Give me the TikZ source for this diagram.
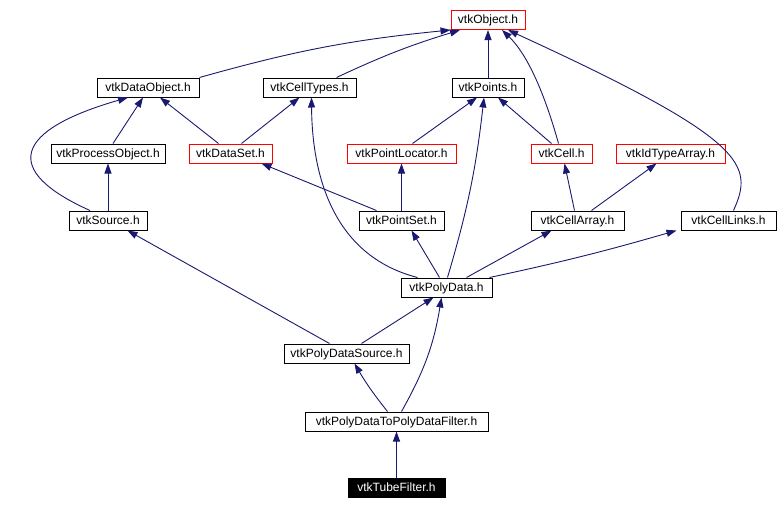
\documentclass[tikz,border=0pt]{standalone}
\usepackage{fontspec}
\setmainfont{Liberation Sans}
\usetikzlibrary{arrows.meta}
\definecolor{edgeblue}{HTML}{191970}
\tikzset{
  hdr/.style={draw=black,line width=1pt,minimum height=19pt,inner sep=0pt,text height=9.4pt,text depth=1.6pt,font=\fontsize{12}{14}\selectfont},
  hdrred/.style={hdr,draw=red},
  hdrcur/.style={hdr,fill=black,text=white},
  dep/.style={draw=edgeblue,line width=0.9pt,-{Triangle[length=10pt,width=7pt]}}
}

\begin{document}
\begin{tikzpicture}[x=1pt,y=-1pt]
              \useasboundingbox (0,0) rectangle (778,509);
              % header boxes
              \node[hdrred,minimum width=74pt](obj)at(488,20){vtkObject.h};
              \node[hdr,minimum width=102pt](dobj)at(148,87.5){vtkDataObject.h};
              \node[hdr,minimum width=93pt](ctypes)at(309.5,87.5){vtkCellTypes.h};
              \node[hdr,minimum width=72pt](points)at(488,87.5){vtkPoints.h};
              \node[hdr,minimum width=114pt](pobj)at(108,153.5){vtkProcessObject.h};
              \node[hdrred,minimum width=83pt](dset)at(230.5,153.5){vtkDataSet.h};
              \node[hdrred,minimum width=109pt](ploc)at(401.5,153.5){vtkPointLocator.h};
              \node[hdrred,minimum width=61pt](cell)at(561.5,153.5){vtkCell.h};
              \node[hdrred,minimum width=109pt](idarr)at(670.5,153.5){vtkIdTypeArray.h};
              \node[hdr,minimum width=78pt](src)at(108,220.5){vtkSource.h};
              \node[hdr,minimum width=85pt](pset)at(401.5,220.5){vtkPointSet.h};
              \node[hdr,minimum width=93pt](carr)at(577.5,220.5){vtkCellArray.h};
              \node[hdr,minimum width=95pt](clinks)at(728.5,220.5){vtkCellLinks.h};
              \node[hdr,minimum width=91pt](pdata)at(446.5,287.5){vtkPolyData.h};
              \node[hdr,minimum width=125pt](pdsrc)at(346.5,353.5){vtkPolyDataSource.h};
              \node[hdr,minimum width=183pt](filt)at(396.5,421.5){vtkPolyDataToPolyDataFilter.h};
              \node[hdrcur,minimum width=97pt](tube)at(396.5,487.5){vtkTubeFilter.h};
              % include edges
              \draw[dep] (dobj.north east) to[bend left=5] (obj.south west);
              \draw[dep] ([xshift=27pt]ctypes.north) to[bend left=4] ([xshift=-28pt]obj.south);
              \draw[dep] (points.north) -- (obj.south);
              \draw[dep] ([xshift=-3pt]cell.north) .. controls (545,95) and (528,55) .. ([xshift=14pt]obj.south);
              \draw[dep] ([xshift=5pt]clinks.north) .. controls (754,165) and (748,140) .. ([xshift=20pt]obj.south);
              \draw[dep] ([xshift=5pt]pobj.north) -- ([xshift=-5pt]dobj.south);
              \draw[dep] ([xshift=-18pt]src.north) .. controls (0,170) and (15,130) .. ([xshift=-20pt]dobj.south);
              \draw[dep] ([xshift=-12pt]dset.north) -- ([xshift=12pt]dobj.south);
              \draw[dep] ([xshift=11pt]dset.north) -- ([xshift=-10pt]ctypes.south);
              \draw[dep] ([xshift=11pt]ploc.north) -- ([xshift=-11pt]points.south);
              \draw[dep] ([xshift=-10pt]cell.north) -- ([xshift=10pt]points.south);
              \draw[dep] (src.north) -- (pobj.south);
              \draw[dep] ([xshift=-25pt]pset.north) -- ([xshift=31pt]dset.south);
              \draw[dep] (pset.north) -- (ploc.south);
              \draw[dep] ([xshift=-3pt]carr.north) -- ([xshift=3pt]cell.south);
              \draw[dep] ([xshift=14pt]carr.north) -- ([xshift=-14pt]idarr.south);
              \draw[dep] ([xshift=-29pt]pdata.north) .. controls (330,255) and (312,170) .. ([xshift=2pt]ctypes.south);
              \draw[dep] ([xshift=-7pt]pdata.north) -- ([xshift=10pt]pset.south);
              \draw[dep] ([xshift=1pt]pdata.north) to[bend right=5] ([xshift=-4pt]points.south);
              \draw[dep] ([xshift=20pt]pdata.north) -- ([xshift=-26pt]carr.south);
              \draw[dep] ([xshift=43pt]pdata.north) to[bend right=2] ([xshift=-52pt]clinks.south);
              \draw[dep] ([xshift=-17pt]pdsrc.north) -- ([xshift=-20pt]src.south east);
              \draw[dep] ([xshift=15pt]pdsrc.north) -- ([xshift=-13pt]pdata.south);
              \draw[dep] ([xshift=-9pt]filt.north) to[bend left=4] ([xshift=8pt]pdsrc.south);
              \draw[dep] ([xshift=5pt]filt.north) to[bend right=10] ([xshift=-5pt]pdata.south);
              \draw[dep] (tube.north) -- (filt.south);
            \end{tikzpicture}
\end{document}
